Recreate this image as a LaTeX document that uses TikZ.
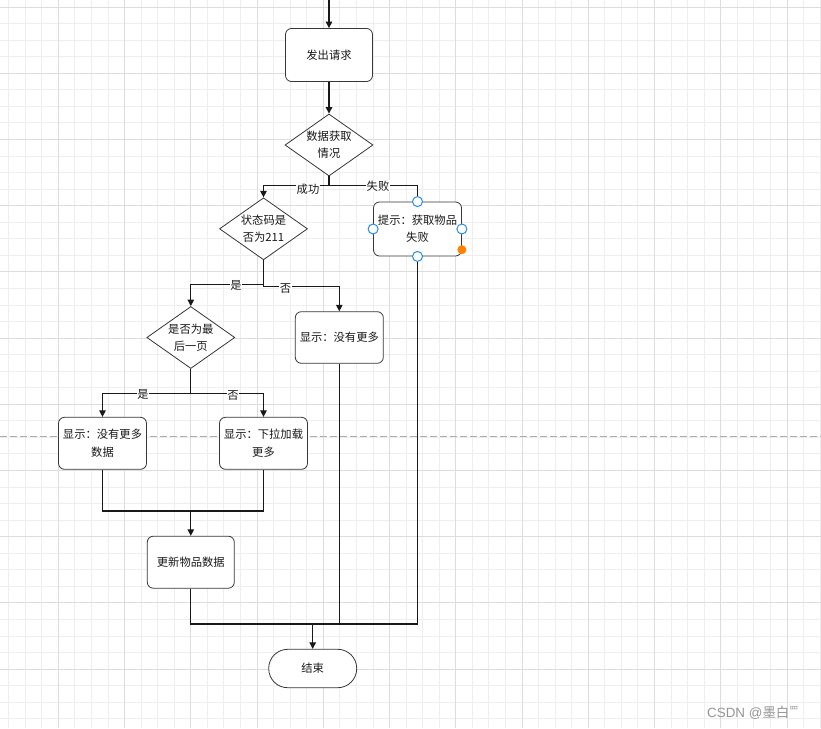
\documentclass[tikz,border=0pt]{standalone}
\usepackage{fontspec}
\setmainfont{Noto Sans CJK SC}
\newfontfamily\wmlatin{Liberation Sans}
\usetikzlibrary{arrows.meta,shapes.geometric}
\definecolor{gridminor}{RGB}{238,238,238}
\definecolor{gridmajor}{RGB}{221,221,221}
\definecolor{guide}{RGB}{172,172,172}
\definecolor{edgec}{RGB}{55,55,55}
\definecolor{handlec}{RGB}{40,140,235}
\definecolor{dotc}{RGB}{255,130,0}
\definecolor{txtc}{RGB}{25,25,25}
\definecolor{wmc}{RGB}{150,150,150}
\begin{document}
\begin{tikzpicture}[x=1pt,y=-1pt,
  every node/.style={font=\fontsize{11.3}{17.3}\selectfont, text=txtc},
  box/.style={draw=edgec, line width=0.8pt, fill=white, rounded corners=6pt,
    minimum width=88pt, minimum height=52pt, align=center, inner sep=0pt},
  dia/.style={diamond, shape aspect=1.42, draw=edgec, line width=0.8pt, fill=white,
    minimum width=88pt, minimum height=62pt, align=center, inner sep=0pt},
  term/.style={draw=edgec, line width=0.8pt, fill=white, rounded corners=19pt,
    minimum width=88pt, minimum height=38.4pt, inner sep=0pt},
  conn/.style={draw=black!90, line width=1.1pt},
  arr/.style={conn, -{Triangle[length=6.5pt,width=6.5pt]}},
  lab/.style={fill=white, inner sep=0.6pt},
  hdl/.style={circle, draw=handlec, fill=white, line width=1pt, minimum size=10pt, inner sep=0pt},
  hdot/.style={circle, fill=dotc, minimum size=9pt, inner sep=0pt}
]
\useasboundingbox (0,0) rectangle (821,728);
\fill[white] (0,0) rectangle (821,728);
% grid
\foreach \k in {0,...,49} {
  \draw[gridminor, line width=0.8pt] ({8.6+16.56*\k},0) -- ({8.6+16.56*\k},728);
}
\foreach \k in {0,...,43} {
  \draw[gridminor, line width=0.8pt] (0,{7+16.55*\k}) -- (821,{7+16.55*\k});
}
\foreach \k in {3,7,...,47} {
  \draw[gridmajor, line width=0.8pt] ({8.6+16.56*\k},0) -- ({8.6+16.56*\k},728);
}
\foreach \k in {0,4,...,40} {
  \draw[gridmajor, line width=0.8pt] (0,{7+16.55*\k}) -- (821,{7+16.55*\k});
}
% guide line
\draw[guide, line width=0.8pt, dash pattern=on 7pt off 3pt] (0,436) -- (821,436);

% nodes
\node[box, minimum width=87pt, minimum height=53pt] (req) at (329,55) {发出请求};
\node[dia] (d1) at (329,145) {数据获取\\情况};
\node[box, minimum height=54pt] (fail) at (417.5,229) {提示：获取物品\\失败};
\node[dia] (d2) at (263.5,228.8) {状态码是\\否为211};
\node[dia] (d3) at (190.8,337.5) {是否为最\\后一页};
\node[box, minimum height=51.6pt] (nomore) at (339.3,337.5) {显示：没有更多};
\node[box] (nomore2) at (102.5,443.3) {显示：没有更多\\数据};
\node[box] (pull) at (263.5,443.3) {显示：下拉加载\\更多};
\node[box, minimum width=87pt] (upd) at (190.8,562.2) {更新物品数据};
\node[term] (end) at (312.7,668.5) {结束};

% coordinates
\coordinate (top) at (329,0);
\coordinate (s1) at (329,185.7);
\coordinate (s2) at (263.5,284.3);
\coordinate (s3) at (263.5,286.7);
\coordinate (s4) at (190.8,393.3);
\coordinate (m1) at (190.8,511);
\coordinate (m2) at (312.7,624);

% connectors
\draw[arr] (top) -- (req);
\draw[arr] (req) -- (d1);
\draw[arr] (d1.south) -- (s1) -| (d2.north);
\draw[conn] (s1) -| (fail.north);
\draw[arr] (d2.south) -- (s3) -| (nomore.north);
\draw[arr] (s2) -| (d3.north);
\draw[arr] (d3.south) -- (s4) -| (nomore2.north);
\draw[arr] (s4) -| (pull.north);
\draw[conn] (nomore2.south) |- (m1) -| (pull.south);
\draw[arr] (m1) -- (upd.north);
\draw[conn] (upd.south) |- (m2) -| (fail.south);
\draw[conn] (nomore.south) -- (nomore.south |- m2);
\draw[arr] (m2) -- (end.north);

% labels
\node[lab] (l1) at (308,189) {成功};
\node[lab] (l2) at (378,186) {失败};
\node[lab] (l3) at (236,285.5) {是};
\node[lab] (l4) at (285.5,289) {否};
\node[lab] (l5) at (143,394.5) {是};
\node[lab] (l6) at (233,396) {否};

% selection handles
\node[hdl] (h1) at (fail.north) {};
\node[hdl] (h2) at (fail.west) {};
\node[hdl] (h3) at (fail.east) {};
\node[hdl] (h4) at (fail.south) {};
\node[hdot] (h5) at ([yshift=6.7pt]fail.south east) {};

% watermark
\node[anchor=base west, inner sep=0pt, text=wmc, font=\fontsize{13.4}{14}\selectfont] (wm) at (707,717)
  {{\wmlatin CSDN @}墨白\raisebox{4pt}{\fontsize{9}{9}\selectfont 罒}};
\end{tikzpicture}
\end{document}
